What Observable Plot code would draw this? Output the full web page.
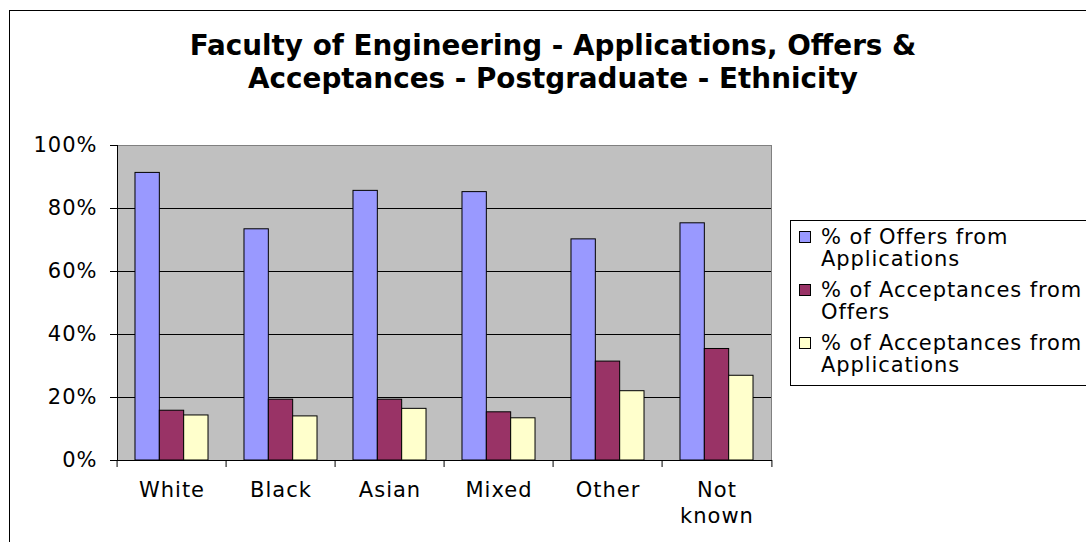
<!DOCTYPE html>
<html>
<head>
<meta charset="utf-8">
<script src="https://cdn.jsdelivr.net/npm/d3@7"></script>
<script src="https://cdn.jsdelivr.net/npm/@observablehq/plot@0.6"></script>
<style>
  html, body { margin: 0; padding: 0; background: #fff; overflow: hidden; }
  #wrap { position: relative; width: 1086px; height: 542px; overflow: hidden; font-family: "DejaVu Sans", Verdana, sans-serif; color: #000; }
  #border { position: absolute; left: 9px; top: 10px; width: 1100px; height: 560px; border: 1px solid #000; box-sizing: border-box; }
  #title { position: absolute; left: 9px; width: 1088px; top: 29px; text-align: center; font-weight: bold; font-size: 27.8px; line-height: 33px; }
  #chart { position: absolute; left: 0; top: 100px; }
  #chart svg text { letter-spacing: 1px; }
  #legend { position: absolute; left: 790px; top: 220px; width: 320px; height: 166px; border: 1px solid #000; box-sizing: border-box; background: #fff; padding: 5px 0 0 8px; }
  .item { position: relative; height: 44px; margin-bottom: 9px; padding-left: 22px; font-size: 21px; line-height: 22px; white-space: pre-line; letter-spacing: 0.9px; }
  .sw { position: absolute; left: 0; top: 5px; width: 12px; height: 12px; border: 1px solid #000; box-sizing: border-box; }
</style>
</head>
<body>
<div id="wrap">
  <div id="border"></div>
  <div id="title"></div>
  <div id="chart"></div>
  <div id="legend"></div>
</div>
<script>
// ---- data ----
const titleLines = ["Faculty of Engineering - Applications, Offers &", "Acceptances - Postgraduate - Ethnicity"];
const categories = ["White", "Black", "Asian", "Mixed", "Other", "Not known"];
const seriesNames = ["% of Offers from Applications", "% of Acceptances from Offers", "% of Acceptances from Applications"];
const offersFromApplications = [91.3, 73.4, 85.6, 85.2, 70.2, 75.3];
const acceptancesFromOffers = [15.8, 19.3, 19.3, 15.3, 31.4, 35.4];
const acceptancesFromApplications = [14.3, 14.0, 16.4, 13.4, 22.0, 26.9];
const yTicks = [0, 20, 40, 60, 80, 100];
const seriesColors = ["#9999FF", "#993366", "#FFFFCC"];

// ---- build table ----
const seriesValues = [offersFromApplications, acceptancesFromOffers, acceptancesFromApplications];
const rows = [];
categories.forEach((c, i) => seriesNames.forEach((s, j) => rows.push({category: c, series: s, value: seriesValues[j][i]})));

document.getElementById("title").innerHTML = titleLines.join("<br>");

const W = 1086, H = 442, mL = 114, mR = 313, mT = 45, mB = 82;
const step = (W - mL - mR) / categories.length;

const chart = Plot.plot({
  width: W, height: H,
  marginLeft: mL, marginRight: mR, marginTop: mT, marginBottom: mB,
  style: {fontFamily: "DejaVu Sans, Verdana, sans-serif", fontSize: "21px", color: "#000", background: "transparent"},
  fx: {domain: categories, padding: 0, label: null},
  x: {domain: seriesNames, paddingInner: 0, paddingOuter: 0.739, axis: null, round: false},
  y: {domain: [0, 100], label: null},
  color: {domain: seriesNames, range: seriesColors},
  marks: [
    Plot.frame({facet: "super", fill: "#C0C0C0"}),
    Plot.ruleY(yTicks.filter(t => t > 0 && t < 100), {stroke: "#000"}),
    Plot.ruleY([100], {stroke: "#808080"}),
    Plot.frame({facet: "super", anchor: "right", stroke: "#808080"}),
    Plot.barY(rows, {fx: "category", x: "series", y: "value", fill: "series", stroke: "#000", strokeWidth: 1}),
    Plot.frame({facet: "super", anchor: "left", stroke: "#000"}),
    Plot.frame({facet: "super", anchor: "bottom", stroke: "#000"}),
    Plot.axisY({ticks: yTicks, tickSize: 7, tickPadding: 13, tickFormat: d => d + "%", fontSize: 21, label: null}),
    Plot.axisFx({anchor: "bottom", tickSize: 7, tickFormat: () => "", dx: -step / 2, label: null}),
    Plot.axisFx({anchor: "bottom", ticks: [categories[categories.length - 1]], tickSize: 7, tickFormat: () => "", dx: step / 2, label: null}),
    Plot.axisFx({anchor: "bottom", tickSize: 0, tickPadding: 19, fontSize: 21, lineHeight: 1.2, tickFormat: d => d.replace(" ", "\n"), label: null})
  ]
});
document.getElementById("chart").appendChild(chart);

// ---- legend ----
const legend = document.getElementById("legend");
seriesNames.forEach((s, j) => {
  const it = document.createElement("div");
  it.className = "item";
  const sw = document.createElement("div");
  sw.className = "sw";
  sw.style.background = seriesColors[j];
  it.appendChild(sw);
  it.appendChild(document.createTextNode(s.replace(/ (\S+)$/, "\n$1")));
  legend.appendChild(it);
});
</script>
</body>
</html>
